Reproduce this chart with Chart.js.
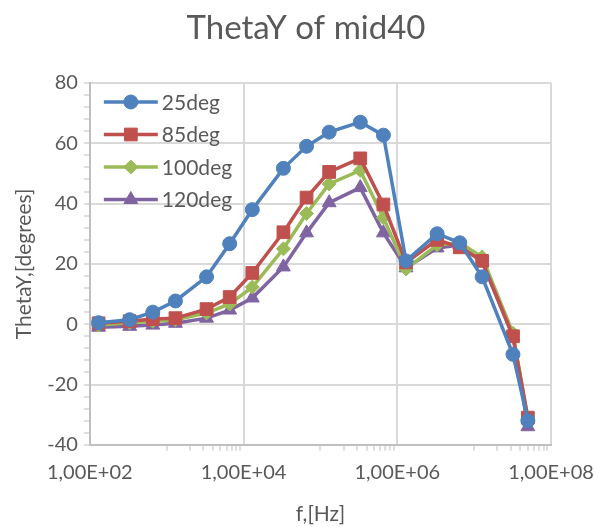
<!DOCTYPE html>
<html>
<head>
<meta charset="utf-8">
<script src="https://cdn.jsdelivr.net/npm/chart.js@4.4.1/dist/chart.umd.min.js"></script>
<style>
  html, body { margin: 0; padding: 0; background: #fff; }
  #wrap { width: 595px; height: 527px; position: relative; }
</style>
</head>
<body>
<div id="wrap"><canvas id="chart" width="595" height="527"></canvas></div>
<script>
// frequencies, Hz
const freqs = [130, 330, 660, 1300, 3300, 6600, 13000, 33000, 66000, 130000,
               330000, 660000, 1300000, 3300000, 6500000, 12700000, 32000000, 50000000];

const deg25  = [0.5, 1.5, 4, 7.7, 15.7, 26.7, 38, 51.7, 59, 63.7, 67, 62.7, 21, 30, 27, 15.7, -10, -32];
const deg85  = [0.3, 1, 1.7, 2, 5, 9, 17, 30.5, 42, 50.5, 55, 39.7, 20.5, 28, 25.5, 21, -4, -31];
const deg100 = [-0.3, 0.5, 1, 1.5, 3.7, 6.7, 12.3, 25, 36.7, 46.5, 51, 35.3, 18.3, 26.3, 27, 22.3, -3, -31.5];
const deg120 = [-1, -0.7, -0.3, 0.3, 2, 4.7, 8.7, 19, 30.3, 40.3, 45.3, 30.3, 18.7, 25.3, 26.3, 20.7, -4, -34];

const seriesNames = ['25deg', '85deg', '100deg', '120deg'];
const seriesColors = ['#4f81bd', '#c0504d', '#9bbb59', '#8064a2'];
const pointStyles = ['circle', 'rect', 'rectRot', 'triangle'];
const pointSizes = [7, 9, 7, 8];

const xLabelTicks = [1e2, 1e4, 1e6, 1e8];
const yMin = -40, yMax = 80;

const textColor = '#595959';
const fontFamily = "Lato, 'Open Sans', sans-serif";

function toPoints(values) {
    return values.map((v, i) => ({ x: freqs[i], y: v }));
}

const allSeries = [deg25, deg85, deg100, deg120];
const datasets = allSeries.map((values, i) => ({
    label: seriesNames[i],
    data: toPoints(values),
    borderColor: seriesColors[i],
    backgroundColor: seriesColors[i],
    borderWidth: 3.5,
    pointStyle: pointStyles[i],
    pointRadius: pointSizes[i],
    pointBorderWidth: 1,
    pointBorderColor: seriesColors[i],
    pointBackgroundColor: seriesColors[i],
    tension: 0
}));

function isLabelTick(v) {
    return xLabelTicks.some(t => Math.abs(v - t) / t < 1e-6);
}

function sci(v) {
    const e = Math.round(Math.log10(v));
    return '1,00E+' + String(e).padStart(2, '0');
}

// legend drawn inside the plot, top left
const insideLegend = {
    id: 'insideLegend',
    afterDatasetsDraw(chart) {
        const ctx = chart.ctx;
        const area = chart.chartArea;
        ctx.save();
        chart.data.datasets.forEach((ds, i) => {
            const y = area.top + 19 + i * 32.5;
            const x0 = area.left + 14;
            ctx.strokeStyle = ds.borderColor;
            ctx.lineWidth = 3.5;
            ctx.beginPath();
            ctx.moveTo(x0, y);
            ctx.lineTo(x0 + 54, y);
            ctx.stroke();
            ctx.fillStyle = ds.backgroundColor;
            ctx.lineWidth = 1;
            Chart.helpers.drawPoint(ctx, { pointStyle: ds.pointStyle, radius: ds.pointRadius, rotation: 0, borderWidth: 1 }, x0 + 27, y);
            ctx.fillStyle = textColor;
            ctx.font = '21px ' + fontFamily;
            ctx.textBaseline = 'middle';
            ctx.textAlign = 'left';
            ctx.fillText(ds.label, x0 + 58, y + 1);
        });
        ctx.restore();
    }
};

const titlePlugin = {
    id: 'titleText',
    afterDraw(chart) {
        const ctx = chart.ctx;
        ctx.save();
        ctx.fillStyle = textColor;
        ctx.font = '33px ' + fontFamily;
        ctx.textAlign = 'center';
        ctx.textBaseline = 'middle';
        ctx.fillText('ThetaY of mid40', 306, 28);
        ctx.restore();
    }
};

new Chart(document.getElementById('chart'), {
    type: 'line',
    data: { datasets },
    plugins: [insideLegend, titlePlugin],
    options: {
        responsive: false,
        animation: false,
        layout: { padding: { top: 83, left: 8, right: 0, bottom: 0 } },
        plugins: {
            legend: { display: false },
            title: { display: false },
            tooltip: { enabled: false }
        },
        scales: {
            x: {
                type: 'logarithmic',
                min: 1e2,
                max: 1e8,
                afterBuildTicks(axis) {
                    const ticks = [];
                    for (let e = 2; e < 8; e++) {
                        for (let k = 1; k < 10; k++) ticks.push({ value: k * Math.pow(10, e) });
                    }
                    ticks.push({ value: 1e8 });
                    axis.ticks = ticks;
                },
                afterFit(axis) {
                    // last label may run to the canvas edge, as in the original
                    axis.paddingRight = 44;
                },
                ticks: {
                    autoSkip: false,
                    maxRotation: 0,
                    color: textColor,
                    font: { size: 20, family: fontFamily },
                    padding: 10,
                    callback(v) { return isLabelTick(v) ? sci(v) : ''; }
                },
                grid: {
                    color(c) {
                        const v = c.tick && c.tick.value;
                        return v && isLabelTick(v) ? '#d9d9d9' : 'rgba(0,0,0,0)';
                    },
                    lineWidth: 2,
                    tickLength: 6,
                    tickColor(c) {
                        const v = c.tick && c.tick.value;
                        if (!v) return 'rgba(0,0,0,0)';
                        const e = Math.floor(Math.log10(v) + 1e-9);
                        return (e % 2 === 1) ? '#bfbfbf' : 'rgba(0,0,0,0)';
                    },
                    tickWidth: 1
                },
                border: { color: '#bfbfbf', width: 2 },
                title: {
                    display: true,
                    text: 'f,[Hz]',
                    color: textColor,
                    font: { size: 21, family: fontFamily },
                    padding: { top: 7, bottom: 0 }
                }
            },
            y: {
                min: yMin,
                max: yMax,
                ticks: {
                    stepSize: 4,
                    autoSkip: false,
                    color: textColor,
                    font: { size: 20, family: fontFamily },
                    padding: 6,
                    callback(v) { return v % 20 === 0 ? String(v) : ''; }
                },
                grid: {
                    color(c) {
                        const v = c.tick && c.tick.value;
                        return (v % 20 === 0) ? '#d9d9d9' : 'rgba(0,0,0,0)';
                    },
                    lineWidth: 2,
                    tickLength: 6,
                    tickColor: '#bfbfbf',
                    tickWidth: 1
                },
                border: { color: '#bfbfbf', width: 2 },
                title: {
                    display: true,
                    text: 'ThetaY,[degrees]',
                    color: textColor,
                    font: { size: 21, family: fontFamily },
                    padding: { bottom: 4 }
                }
            }
        }
    }
});
</script>
</body>
</html>
